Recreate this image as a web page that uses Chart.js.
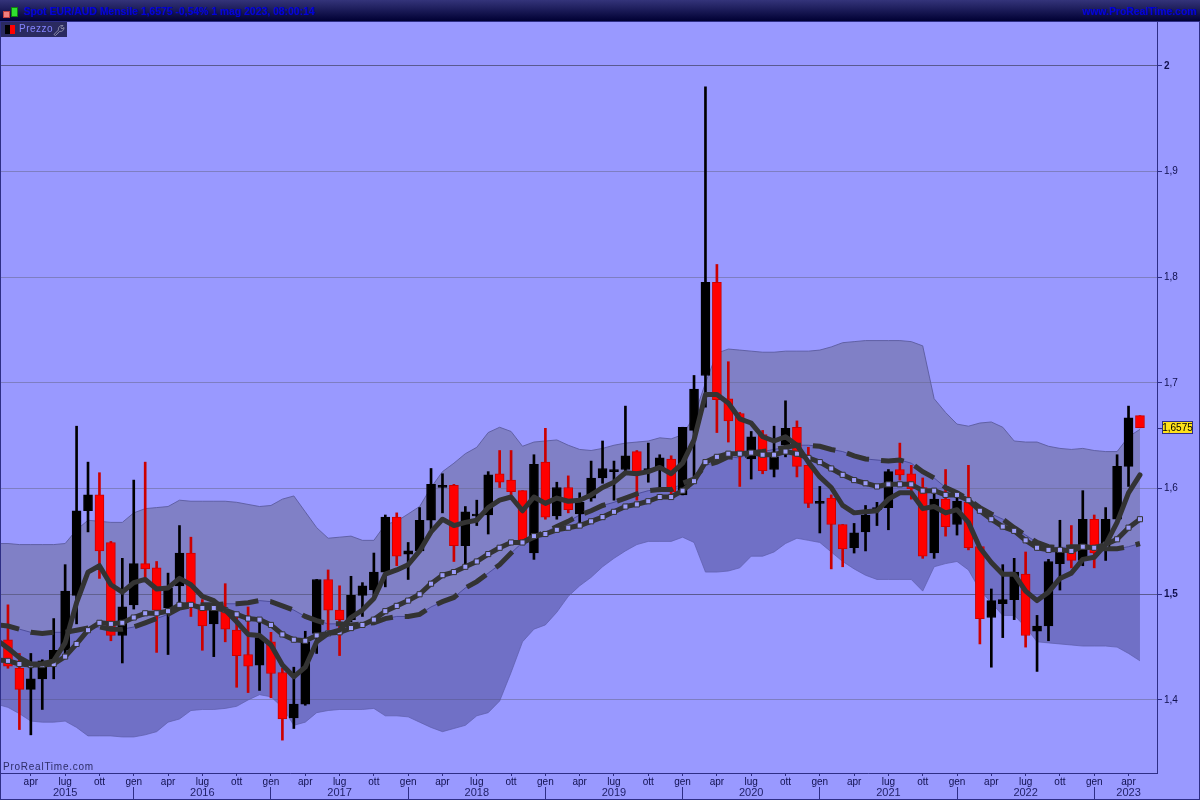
<!DOCTYPE html>
<html lang="it">
<head>
<meta charset="utf-8">
<title>Spot EUR/AUD Mensile</title>
<script src="https://cdn.jsdelivr.net/npm/chart.js@4/dist/chart.umd.min.js"></script>
<style>
    html, body { margin: 0; padding: 0; background: #9999ff; overflow: hidden; }
    #pagina { position: relative; width: 1200px; height: 800px; overflow: hidden; font-family: "Liberation Sans", Arial, sans-serif; }
    #grafico { position: absolute; left: 0; top: 0; }
    #cornice { position: absolute; left: 0; top: 0; width: 1198px; height: 798px; border: 1px solid #2e2e86; pointer-events: none; }
    #testata { position: absolute; left: 0; top: 0; width: 1200px; height: 21px; background: linear-gradient(#34347a, #000033); border-bottom: 1px solid #2e2e86; }
    #titolo, #sito { position: absolute; top: 6px; font-size: 10.4px; font-weight: bold; color: #0000d8; white-space: nowrap; }
    #titolo { left: 24px; }
    #sito { right: 3px; }
    .icona { position: absolute; border: 1px solid; }
    #prezzo { position: absolute; left: 1px; top: 22px; width: 66px; height: 15px; background: #2a2a60; color: #8484ff; font-size: 10px; letter-spacing: 0.5px; }
    #prezzo span { position: absolute; left: 18px; top: 1px; }
    #marchio { position: absolute; left: 3px; top: 761px; font-size: 10px; letter-spacing: 0.75px; color: #2c2c66; }
</style>
</head>
<body>
<div id="pagina">
    <canvas id="grafico" width="1200" height="800"></canvas>
    <div id="cornice"></div>
    <div id="testata">
        <i class="icona" style="left:3px;top:11px;width:5px;height:5px;background:#f08080;border-color:#c04040"></i>
        <i class="icona" style="left:11px;top:7px;width:5px;height:8px;background:#30e030;border-color:#108010"></i>
        <div id="titolo">Spot EUR/AUD Mensile 1,6575 -0,54% 1 mag 2023, 08:00:14</div>
        <div id="sito">www.ProRealTime.com</div>
    </div>
    <div id="prezzo">
        <i style="position:absolute;left:4px;top:3px;width:5px;height:9px;background:#000"></i>
        <i style="position:absolute;left:9px;top:3px;width:5px;height:9px;background:#ff0000"></i>
        <span>Prezzo</span>
        <svg style="position:absolute;left:52px;top:2px" width="12" height="12" viewBox="0 0 12 12"><path d="M1 10.5 L5.5 6 C4.8 3.5 7 1 10 1.5 L8 3.5 L9 5 L11 3.5 C11.3 6 9 8 6.8 7.3 L2.5 11.5 Z" fill="none" stroke="#8c8ca8" stroke-width="1"/></svg>
    </div>
    <div id="marchio">ProRealTime.com</div>
</div>
<script>
const mesi = [
    'gen 2015', 'feb 2015', 'mar 2015', 'apr 2015', 'mag 2015', 'giu 2015', 'lug 2015', 'ago 2015', 'set 2015', 'ott 2015', 'nov 2015', 'dic 2015',
    'gen 2016', 'feb 2016', 'mar 2016', 'apr 2016', 'mag 2016', 'giu 2016', 'lug 2016', 'ago 2016', 'set 2016', 'ott 2016', 'nov 2016', 'dic 2016',
    'gen 2017', 'feb 2017', 'mar 2017', 'apr 2017', 'mag 2017', 'giu 2017', 'lug 2017', 'ago 2017', 'set 2017', 'ott 2017', 'nov 2017', 'dic 2017',
    'gen 2018', 'feb 2018', 'mar 2018', 'apr 2018', 'mag 2018', 'giu 2018', 'lug 2018', 'ago 2018', 'set 2018', 'ott 2018', 'nov 2018', 'dic 2018',
    'gen 2019', 'feb 2019', 'mar 2019', 'apr 2019', 'mag 2019', 'giu 2019', 'lug 2019', 'ago 2019', 'set 2019', 'ott 2019', 'nov 2019', 'dic 2019',
    'gen 2020', 'feb 2020', 'mar 2020', 'apr 2020', 'mag 2020', 'giu 2020', 'lug 2020', 'ago 2020', 'set 2020', 'ott 2020', 'nov 2020', 'dic 2020',
    'gen 2021', 'feb 2021', 'mar 2021', 'apr 2021', 'mag 2021', 'giu 2021', 'lug 2021', 'ago 2021', 'set 2021', 'ott 2021', 'nov 2021', 'dic 2021',
    'gen 2022', 'feb 2022', 'mar 2022', 'apr 2022', 'mag 2022', 'giu 2022', 'lug 2022', 'ago 2022', 'set 2022', 'ott 2022', 'nov 2022', 'dic 2022',
    'gen 2023', 'feb 2023', 'mar 2023', 'apr 2023', 'mag 2023'
];
const etichetteMese = ['gen', 'apr', 'lug', 'ott'];
const posizioniAnno = ['lug 2015', 'lug 2016', 'lug 2017', 'lug 2018', 'lug 2019', 'lug 2020', 'lug 2021', 'lug 2022', 'apr 2023'];
const iniziAnno = ['gen 2016', 'gen 2017', 'gen 2018', 'gen 2019', 'gen 2020', 'gen 2021', 'gen 2022', 'gen 2023'];
const tickPrezzo = [1.4, 1.5, 1.6, 1.7, 1.8, 1.9, 2];

// gen 2015 resta fuori dal bordo sinistro: niente candela, solo le linee che entrano dal bordo
const apertura = [
    null, 1.457, 1.430, 1.410, 1.420, 1.437, 1.447, 1.499, 1.579, 1.594, 1.549,
    1.461, 1.490, 1.529, 1.525, 1.487, 1.508, 1.539, 1.490, 1.472, 1.485,
    1.466, 1.443, 1.433, 1.455, 1.426, 1.383, 1.396, 1.463, 1.514, 1.485,
    1.476, 1.499, 1.504, 1.521, 1.573, 1.538, 1.541, 1.570, 1.601, 1.603,
    1.546, 1.574, 1.575, 1.614, 1.608, 1.598, 1.539, 1.625, 1.574, 1.601,
    1.576, 1.591, 1.610, 1.616, 1.618, 1.635, 1.617, 1.620, 1.628, 1.594,
    1.655, 1.707, 1.795, 1.685, 1.671, 1.628, 1.651, 1.618, 1.641, 1.658,
    1.622, 1.586, 1.591, 1.566, 1.544, 1.559, 1.580, 1.582, 1.618, 1.614,
    1.601, 1.539, 1.590, 1.566, 1.587, 1.545, 1.478, 1.491, 1.495, 1.519,
    1.465, 1.470, 1.529, 1.542, 1.532, 1.571, 1.545, 1.571, 1.621, 1.669
];
const massimo = [
    null, 1.490, 1.444, 1.444, 1.438, 1.477, 1.528, 1.659, 1.625, 1.615, 1.550,
    1.534, 1.608, 1.625, 1.531, 1.520, 1.565, 1.554, 1.495, 1.490, 1.510,
    1.479, 1.488, 1.473, 1.464, 1.430, 1.431, 1.465, 1.514, 1.523, 1.508,
    1.517, 1.511, 1.539, 1.575, 1.577, 1.549, 1.582, 1.619, 1.614, 1.604,
    1.583, 1.589, 1.616, 1.636, 1.636, 1.598, 1.632, 1.657, 1.606, 1.612,
    1.596, 1.626, 1.645, 1.626, 1.678, 1.636, 1.643, 1.632, 1.631, 1.658,
    1.707, 1.980, 1.812, 1.720, 1.672, 1.654, 1.655, 1.659, 1.683, 1.664,
    1.639, 1.602, 1.594, 1.566, 1.567, 1.584, 1.587, 1.618, 1.643, 1.622,
    1.610, 1.595, 1.618, 1.593, 1.622, 1.545, 1.505, 1.528, 1.534, 1.540,
    1.480, 1.533, 1.570, 1.565, 1.598, 1.575, 1.582, 1.632, 1.678, 1.669
];
const minimo = [
    null, 1.430, 1.372, 1.367, 1.391, 1.420, 1.444, 1.472, 1.559, 1.515, 1.456,
    1.435, 1.486, 1.515, 1.445, 1.443, 1.493, 1.479, 1.447, 1.441, 1.455,
    1.412, 1.407, 1.409, 1.402, 1.362, 1.373, 1.395, 1.444, 1.466, 1.442,
    1.474, 1.479, 1.497, 1.507, 1.527, 1.514, 1.541, 1.561, 1.577, 1.531,
    1.526, 1.565, 1.557, 1.601, 1.594, 1.547, 1.533, 1.571, 1.571, 1.577,
    1.567, 1.588, 1.605, 1.589, 1.615, 1.589, 1.606, 1.597, 1.594, 1.594,
    1.608, 1.677, 1.653, 1.644, 1.602, 1.609, 1.614, 1.611, 1.630, 1.611,
    1.582, 1.558, 1.524, 1.526, 1.539, 1.541, 1.565, 1.561, 1.608, 1.590,
    1.534, 1.534, 1.555, 1.556, 1.542, 1.453, 1.431, 1.459, 1.476, 1.450,
    1.427, 1.456, 1.504, 1.525, 1.527, 1.525, 1.532, 1.571, 1.602, 1.6575
];
const chiusura = [
    null, 1.432, 1.410, 1.420, 1.437, 1.447, 1.503, 1.579, 1.594, 1.541, 1.461,
    1.488, 1.529, 1.524, 1.485, 1.506, 1.539, 1.490, 1.470, 1.485, 1.467,
    1.442, 1.432, 1.459, 1.425, 1.382, 1.396, 1.455, 1.514, 1.485, 1.476,
    1.499, 1.508, 1.521, 1.573, 1.536, 1.541, 1.570, 1.604, 1.603, 1.546,
    1.578, 1.575, 1.613, 1.606, 1.597, 1.551, 1.623, 1.573, 1.601, 1.580,
    1.587, 1.610, 1.619, 1.618, 1.631, 1.616, 1.619, 1.629, 1.597, 1.658,
    1.694, 1.795, 1.684, 1.664, 1.635, 1.649, 1.617, 1.630, 1.657, 1.621,
    1.586, 1.588, 1.566, 1.543, 1.558, 1.575, 1.582, 1.616, 1.613, 1.600,
    1.536, 1.590, 1.564, 1.588, 1.544, 1.477, 1.494, 1.495, 1.521, 1.461,
    1.470, 1.531, 1.542, 1.532, 1.571, 1.539, 1.571, 1.621, 1.667, 1.6575
];

const bandaSuperiore = [
    1.548, 1.548, 1.547, 1.547, 1.547, 1.547, 1.548, 1.561, 1.570, 1.569, 1.568,
    1.568, 1.577, 1.581, 1.582, 1.583, 1.589, 1.588, 1.588, 1.588, 1.588,
    1.587, 1.585, 1.583, 1.584, 1.590, 1.593, 1.578, 1.563, 1.553, 1.554,
    1.555, 1.551, 1.551, 1.566, 1.569, 1.576, 1.583, 1.601, 1.616, 1.624,
    1.633, 1.639, 1.653, 1.658, 1.654, 1.640, 1.644, 1.645, 1.646, 1.641,
    1.637, 1.636, 1.638, 1.641, 1.643, 1.644, 1.645, 1.648, 1.647, 1.651,
    1.668, 1.700, 1.728, 1.732, 1.731, 1.730, 1.729, 1.729, 1.730, 1.730,
    1.730, 1.731, 1.734, 1.738, 1.739, 1.740, 1.740, 1.740, 1.740, 1.739,
    1.735, 1.685, 1.672, 1.661, 1.659, 1.662, 1.663, 1.658, 1.645, 1.644,
    1.644, 1.640, 1.638, 1.637, 1.638, 1.636, 1.635, 1.635, 1.649, 1.656
];
const bandaMedia = [
    1.471, 1.470, 1.467, 1.464, 1.463, 1.464, 1.464, 1.466, 1.468, 1.469, 1.467,
    1.467, 1.469, 1.473, 1.477, 1.481, 1.487, 1.489, 1.490, 1.490, 1.491,
    1.491, 1.492, 1.494, 1.493, 1.489, 1.485, 1.479, 1.475, 1.472, 1.472,
    1.471, 1.472, 1.473, 1.477, 1.479, 1.479, 1.481, 1.488, 1.493, 1.497,
    1.506, 1.512, 1.520, 1.528, 1.539, 1.549, 1.554, 1.559, 1.564, 1.569,
    1.575, 1.579, 1.584, 1.587, 1.591, 1.595, 1.598, 1.599, 1.599, 1.605,
    1.609, 1.622, 1.625, 1.630, 1.629, 1.634, 1.635, 1.637, 1.639, 1.641,
    1.641, 1.640, 1.637, 1.635, 1.631, 1.628, 1.627, 1.626, 1.627, 1.624,
    1.616, 1.610, 1.601, 1.596, 1.590, 1.582, 1.576, 1.571, 1.563, 1.556,
    1.549, 1.545, 1.544, 1.545, 1.545, 1.544, 1.543, 1.543, 1.545, 1.548
];
const bandaInferiore = [
    1.396, 1.393, 1.387, 1.380, 1.379, 1.379, 1.380, 1.374, 1.366, 1.366, 1.366,
    1.365, 1.365, 1.367, 1.370, 1.379, 1.382, 1.390, 1.391, 1.391, 1.392,
    1.394, 1.400, 1.405, 1.403, 1.393, 1.376, 1.379, 1.388, 1.390, 1.391,
    1.391, 1.391, 1.392, 1.385, 1.385, 1.384, 1.379, 1.374, 1.370, 1.373,
    1.376, 1.385, 1.388, 1.399, 1.426, 1.455, 1.467, 1.471, 1.483, 1.498,
    1.508, 1.516, 1.526, 1.534, 1.541, 1.547, 1.550, 1.550, 1.550, 1.554,
    1.549, 1.521, 1.521, 1.522, 1.525, 1.536, 1.536, 1.540, 1.548, 1.553,
    1.551, 1.549, 1.540, 1.531, 1.524, 1.518, 1.514, 1.514, 1.514, 1.514,
    1.503, 1.526, 1.529, 1.531, 1.523, 1.504, 1.492, 1.480, 1.480, 1.469,
    1.455, 1.454, 1.453, 1.452, 1.451, 1.451, 1.451, 1.450, 1.444, 1.437
];
const mediaBreve = [
    1.457, 1.449, 1.440, 1.434, 1.434, 1.437, 1.454, 1.492, 1.521, 1.527, 1.509,
    1.502, 1.511, 1.514, 1.505, 1.506, 1.515, 1.509, 1.498, 1.494, 1.485,
    1.474, 1.462, 1.461, 1.452, 1.433, 1.422, 1.431, 1.455, 1.463, 1.466,
    1.478, 1.485, 1.496, 1.519, 1.523, 1.528, 1.541, 1.559, 1.571, 1.565,
    1.568, 1.570, 1.582, 1.589, 1.592, 1.579, 1.592, 1.586, 1.591, 1.588,
    1.589, 1.594, 1.601, 1.606, 1.615, 1.614, 1.616, 1.620, 1.614, 1.624,
    1.646, 1.689, 1.689, 1.681, 1.666, 1.662, 1.649, 1.645, 1.649, 1.641,
    1.625, 1.611, 1.601, 1.584, 1.577, 1.578, 1.579, 1.590, 1.596, 1.596,
    1.581, 1.583, 1.577, 1.580, 1.568, 1.544, 1.530, 1.519, 1.519, 1.503,
    1.494, 1.502, 1.515, 1.520, 1.533, 1.535, 1.547, 1.568, 1.596, 1.613
];
const mediaPunti = [
    1.438, 1.437, 1.434, 1.433, 1.433, 1.434, 1.441, 1.453, 1.466, 1.473, 1.472,
    1.473, 1.478, 1.482, 1.482, 1.484, 1.490, 1.490, 1.487, 1.487, 1.485,
    1.481, 1.477, 1.476, 1.471, 1.462, 1.457, 1.456, 1.461, 1.463, 1.464,
    1.468, 1.471, 1.476, 1.484, 1.489, 1.494, 1.500, 1.510, 1.518, 1.521,
    1.526, 1.531, 1.538, 1.544, 1.549, 1.549, 1.555, 1.557, 1.561, 1.563,
    1.565, 1.569, 1.573, 1.578, 1.583, 1.585, 1.588, 1.592, 1.592, 1.598,
    1.607, 1.625, 1.630, 1.633, 1.633, 1.634, 1.632, 1.632, 1.635, 1.633,
    1.629, 1.625, 1.619, 1.613, 1.608, 1.605, 1.602, 1.604, 1.604, 1.604,
    1.598, 1.598, 1.594, 1.594, 1.589, 1.579, 1.571, 1.564, 1.560, 1.551,
    1.544, 1.542, 1.542, 1.541, 1.545, 1.544, 1.547, 1.552, 1.563, 1.571
];

const BLU_ASSI = '#2e2e86';
const INDICE_MIN = 0.39;
const INDICE_MAX = 101.49;

function serieLinea(valori) {
    return valori.map((y, x) => ({ x, y }));
}

function serieCandela(alto, basso) {
    return mesi.map((_, x) => ({ x, y: alto[x] === null ? null : [basso[x], alto[x]] }));
}

function coloreCandela(ctx, rosso) {
    const i = ctx.dataIndex;
    return chiusura[i] < apertura[i] ? rosso : '#000000';
}

function tickForte(ctx) {
    return !!ctx.tick && (ctx.tick.value === 1.5 || ctx.tick.value === 2);
}

const etichettaPrezzo = {
    id: 'etichettaPrezzo',
    afterDraw(chart) {
        const { ctx, scales } = chart;
        const y = Math.round(scales.y.getPixelForValue(chiusura[chiusura.length - 1]));
        ctx.save();
        ctx.strokeStyle = BLU_ASSI;
        ctx.beginPath();
        ctx.moveTo(1157, y + 0.5);
        ctx.lineTo(1162, y + 0.5);
        ctx.stroke();
        ctx.fillStyle = '#ffe11a';
        ctx.fillRect(1162.5, y - 6.5, 30, 12);
        ctx.strokeRect(1162.5, y - 6.5, 30, 12);
        ctx.fillStyle = '#000000';
        ctx.font = '10px "Liberation Sans"';
        ctx.textBaseline = 'middle';
        ctx.textAlign = 'center';
        ctx.fillText('1,6575', 1177.5, y);
        ctx.restore();
    }
};

new Chart(document.getElementById('grafico'), {
    type: 'bar',
    plugins: [etichettaPrezzo],
    data: {
        datasets: [
            // bande: lo spazio fra i due bordi e' riempito
            {
                type: 'line', data: serieLinea(bandaSuperiore), order: 12, fill: '+1',
                backgroundColor: 'rgba(103,103,141,0.5)', borderColor: 'rgba(92,92,158,0.9)', borderWidth: 1, pointRadius: 0
            },
            {
                type: 'line', data: serieLinea(bandaMedia), order: 11, fill: '+1',
                backgroundColor: 'rgba(71,71,141,0.5)', borderColor: 'rgba(72,72,150,0.9)', borderWidth: 1, pointRadius: 0
            },
            {
                type: 'line', data: serieLinea(bandaInferiore), order: 10, fill: false,
                borderColor: 'rgba(92,92,170,0.7)', borderWidth: 1, pointRadius: 0
            },
            // candele: ombra e corpo
            {
                data: serieCandela(massimo, minimo), order: 6, grouped: false, barThickness: 2,
                backgroundColor: ctx => coloreCandela(ctx, '#cc0000')
            },
            {
                data: serieCandela(apertura, chiusura), order: 5, grouped: false, barThickness: 9, borderWidth: 1,
                borderSkipped: false, minBarLength: 2,
                backgroundColor: ctx => coloreCandela(ctx, '#ff0000'),
                borderColor: ctx => coloreCandela(ctx, '#cc0000')
            },
            {
                type: 'line', data: serieLinea(bandaMedia), order: 3, fill: false,
                borderColor: '#333333', borderWidth: 5, borderDash: [23, 12], pointRadius: 0
            },
            {
                type: 'line', data: serieLinea(mediaPunti), order: 2, fill: false,
                borderColor: '#333333', borderWidth: 5, borderJoinStyle: 'round',
                pointStyle: 'rect', pointRadius: 3.6, pointBorderWidth: 1,
                pointBackgroundColor: '#9c9cfa', pointBorderColor: '#333333'
            },
            {
                type: 'line', data: serieLinea(mediaBreve), order: 1, fill: false,
                borderColor: '#333333', borderWidth: 5, borderJoinStyle: 'round', borderCapStyle: 'round', pointRadius: 0
            }
        ]
    },
    options: {
        responsive: false,
        animation: false,
        devicePixelRatio: 1,
        layout: { autoPadding: false, padding: { top: 22, bottom: 1, left: 1, right: 0 } },
        plugins: { legend: { display: false }, title: { display: false }, tooltip: { enabled: false } },
        scales: {
            x: {
                type: 'linear', position: 'bottom', weight: 0, min: INDICE_MIN, max: INDICE_MAX, offset: false,
                afterBuildTicks: scale => {
                    scale.ticks = mesi
                        .map((m, value) => ({ m, value }))
                        .filter(t => t.value > 0 && etichetteMese.includes(t.m.split(' ')[0]))
                        .map(t => ({ value: t.value }));
                },
                afterFit: scale => { scale.height = 14; scale.paddingLeft = 0; scale.paddingRight = 0; },
                grid: { offset: false, drawOnChartArea: false, tickLength: 3, tickColor: BLU_ASSI },
                border: { color: BLU_ASSI },
                ticks: {
                    autoSkip: false, maxRotation: 0, minRotation: 0, padding: 0,
                    color: '#10104e', font: { family: '"Liberation Sans"', size: 10 },
                    callback: value => mesi[value].split(' ')[0]
                }
            },
            x2: {
                type: 'linear', position: 'bottom', weight: 1, min: INDICE_MIN, max: INDICE_MAX, offset: false,
                afterBuildTicks: scale => {
                    scale.ticks = posizioniAnno.concat(iniziAnno)
                        .map(m => ({ value: mesi.indexOf(m) }))
                        .sort((a, b) => a.value - b.value);
                },
                afterFit: scale => { scale.height = 12; scale.paddingLeft = 0; scale.paddingRight = 0; },
                grid: {
                    offset: false, drawOnChartArea: false, tickLength: 12,
                    tickColor: ctx => ctx.tick && iniziAnno.includes(mesi[ctx.tick.value]) ? BLU_ASSI : 'rgba(0,0,0,0)'
                },
                border: { display: false },
                ticks: {
                    autoSkip: false, maxRotation: 0, minRotation: 0, padding: -13,
                    color: '#22226a', font: { family: '"Liberation Sans"', size: 11 },
                    callback: value => posizioniAnno.includes(mesi[value]) ? mesi[value].split(' ')[1] : ''
                }
            },
            y: {
                type: 'linear', position: 'right', min: 1.3309, max: 2.0414,
                afterBuildTicks: scale => {
                    scale.ticks = tickPrezzo.map(value => ({ value }));
                },
                afterFit: scale => { scale.width = 43; },
                grid: {
                    tickLength: 5,
                    color: ctx => tickForte(ctx) ? '#5a5a90' : '#7e7ec2',
                    tickColor: BLU_ASSI
                },
                border: { color: BLU_ASSI },
                ticks: {
                    padding: 2, color: '#10104e',
                    font: ctx => ({ family: '"Liberation Sans"', size: 10, weight: tickForte(ctx) ? 'bold' : 'normal' }),
                    callback: value => String(value).replace('.', ',')
                }
            }
        }
    }
});
</script>
</body>
</html>
